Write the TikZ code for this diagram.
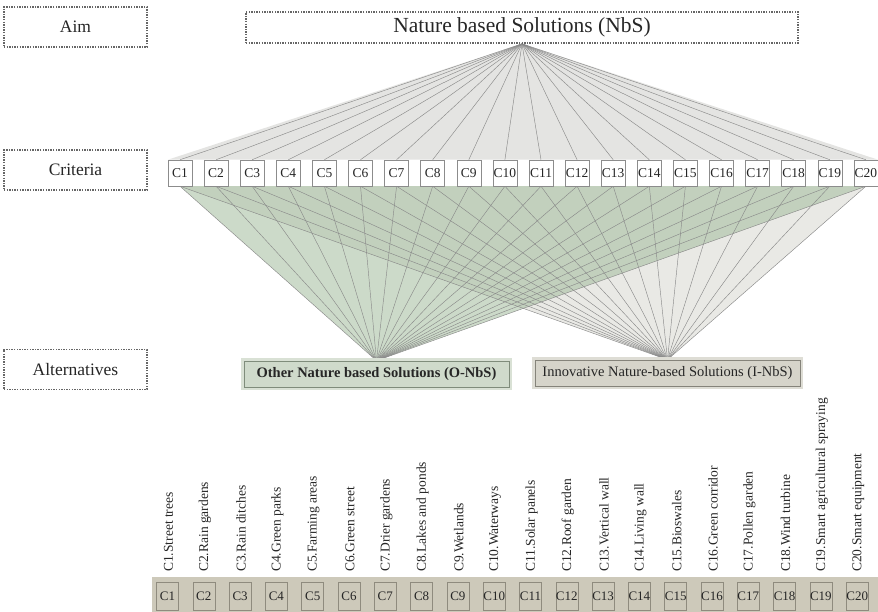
\documentclass[tikz,border=0pt]{standalone}
\usepackage{fontspec}
\setmainfont{Liberation Serif}
\usetikzlibrary{backgrounds}

\definecolor{fantop}{HTML}{E4E4E2}
\definecolor{fangray}{HTML}{D4D4CC}
\definecolor{fangreen}{HTML}{A2BC9C}
\definecolor{fanline}{HTML}{8A8A8A}
\definecolor{onbsfill}{HTML}{CFDACB}
\definecolor{onbsedge}{HTML}{7F8C7B}
\definecolor{inbsfill}{HTML}{D6D4CA}
\definecolor{inbsedge}{HTML}{85837A}
\definecolor{stripfill}{HTML}{CDC9BA}
\definecolor{stripedge}{HTML}{8F8B7E}

\begin{document}
\begin{tikzpicture}[
    x=1pt, y=-1pt,
    every node/.style={text=black!85},
    levelbox/.style={draw=black!60, dash pattern=on 1.4pt off 1.2pt, line width=1.6pt,
        minimum width=143, minimum height=40, inner sep=0,
        font=\fontsize{17.5}{20}\selectfont},
    aimbox/.style={draw=black!60, dash pattern=on 1.4pt off 1.2pt, line width=1.6pt,
        minimum width=552, minimum height=31, inner sep=0,
        font=\fontsize{21.5}{24}\selectfont},
    critbox/.style={draw=black!45, fill=white, line width=0.5pt,
        minimum width=24, minimum height=26, inner sep=0,
        font=\fontsize{13.5}{15}\selectfont},
    altbox/.style={line width=0.6pt, minimum width=265, minimum height=26,
        inner sep=0, font=\fontsize{14.5}{17}\selectfont},
    itembox/.style={draw=stripedge, fill=stripfill, line width=0.5pt,
        minimum width=22, minimum height=28, inner sep=0,
        font=\fontsize{13}{15}\selectfont},
    itemlabel/.style={rotate=90, anchor=west, inner sep=0,
        font=\fontsize{13.5}{15}\selectfont},
    fanedge/.style={draw=fanline, line width=0.45pt},
    ]

    \useasboundingbox (0,0) rectangle (878,612);

    % levels on the left
    \node[levelbox] (aim) at (75.5,27) {Aim};
    \node[levelbox] (criteria) at (75.5,170) {Criteria};
    \node[levelbox] (alternatives) at (75.5,369.5) {Alternatives};

    % aim
    \node[aimbox] (nbs) at (522,27.5) {Nature based Solutions (NbS)};

    % criteria
    \foreach \i in {1,...,20}
        \node[critbox] (c\i) at ({180+36.1*(\i-1)},173) {C\i};

    % alternatives
    \node[altbox, draw=onbsedge, fill=onbsfill,
        preaction={draw=onbsfill!80!white, line width=6pt}] (onbs)
        at (376.5,374) {\bfseries Other Nature based Solutions (O-NbS)};
    \node[altbox, draw=inbsedge, fill=inbsfill,
        preaction={draw=inbsfill!80!white, line width=6pt}] (inbs)
        at (667.5,373) {Innovative Nature-based Solutions (I-NbS)};

    % fans
    \begin{scope}[on background layer]
        \fill[fantop] (nbs.south) -- (c1.north west) -- (c20.north east) -- cycle;
        \fill[fangray, fill opacity=0.5] (inbs.north) -- (c1.south) -- (c20.south) -- cycle;
        \fill[fangreen, fill opacity=0.55] (onbs.north) -- (c1.south) -- (c20.south) -- cycle;
        \foreach \i in {1,...,20} {
            \path[fanedge] (nbs.south) -- (c\i.north);
            \path[fanedge] (c\i.south) -- (onbs.north);
            \path[fanedge] (c\i.south) -- (inbs.north);
        }
    \end{scope}

    % legend of the criteria
    \fill[stripfill] (152,577) rectangle (878,612);
    \foreach \i/\name in {1/Street trees, 2/Rain gardens, 3/Rain ditches,
        4/Green parks, 5/Farming areas, 6/Green street, 7/Drier gardens,
        8/Lakes and ponds, 9/Wetlands, 10/Waterways, 11/Solar panels,
        12/Roof garden, 13/Vertical wall, 14/Living wall, 15/Bioswales,
        16/Green corridor, 17/Pollen garden, 18/Wind turbine,
        19/Smart agricultural spraying, 20/Smart equipment} {
        \node[itembox] (b\i) at ({167.5+36.3*(\i-1)},596) {C\i};
        \node[itemlabel] (l\i) at ({168.5+36.3*(\i-1)},572) {C\i.\name};
    }
\end{tikzpicture}
\end{document}
